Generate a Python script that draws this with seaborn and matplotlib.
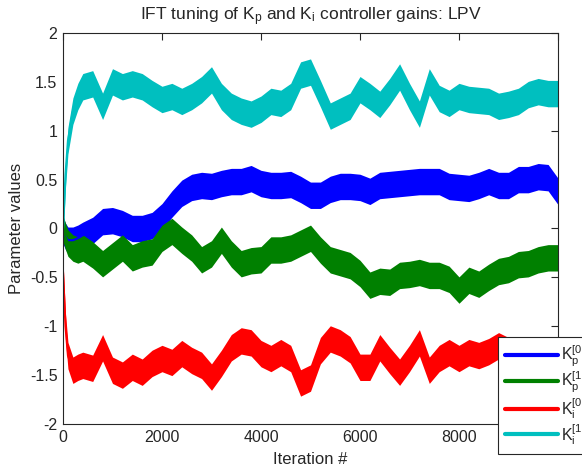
"""IFT tuning of Kp and Ki gains (LPV) - recreated chart
"""

import matplotlib.pyplot as plt
from matplotlib.ticker import FuncFormatter
import pandas as pd
import seaborn as sns

# iteration grid and band centres for each gain
iterations = [
    0, 50, 100, 200, 300, 400, 600, 800, 1000, 1200, 1400, 1600, 1800,
    2000, 2200, 2400, 2600, 2800, 3000, 3200, 3400, 3600, 3800, 4000,
    4200, 4400, 4600, 4800, 5000, 5200, 5400, 5600, 5800, 6000, 6200,
    6400, 6600, 6800, 7000, 7200, 7400, 7600, 7800, 8000, 8200, 8400,
    8600, 8800, 9000, 9200, 9400, 9600, 9800, 10000,
]

kp0 = [
    -0.02, -0.08, -0.12, -0.12, -0.10, -0.07, -0.02, 0.07, 0.08, 0.05, 0.00,
    0.00, 0.03, 0.12, 0.25, 0.36, 0.42, 0.44, 0.43, 0.46, 0.48, 0.48, 0.51,
    0.46, 0.44, 0.44, 0.45, 0.40, 0.34, 0.34, 0.40, 0.43, 0.43, 0.42, 0.38,
    0.44, 0.45, 0.46, 0.47, 0.48, 0.48, 0.48, 0.43, 0.42, 0.41, 0.44, 0.48,
    0.44, 0.44, 0.50, 0.50, 0.53, 0.52, 0.38,
]

kp1 = [
    0.00, -0.08, -0.15, -0.20, -0.22, -0.20, -0.27, -0.36, -0.28, -0.20,
    -0.30, -0.26, -0.24, -0.10, -0.03, -0.12, -0.20, -0.32, -0.26, -0.12,
    -0.26, -0.36, -0.33, -0.32, -0.22, -0.22, -0.20, -0.15, -0.10, -0.22,
    -0.32, -0.35, -0.38, -0.46, -0.58, -0.54, -0.55, -0.48, -0.47, -0.45,
    -0.48, -0.48, -0.52, -0.63, -0.53, -0.57, -0.50, -0.44, -0.42, -0.37,
    -0.36, -0.32, -0.30, -0.30,
]

ki0 = [
    -0.45, -1.00, -1.30, -1.45, -1.42, -1.40, -1.43, -1.22, -1.45, -1.50,
    -1.42, -1.47, -1.38, -1.33, -1.37, -1.28, -1.35, -1.40, -1.52, -1.38,
    -1.22, -1.15, -1.17, -1.28, -1.33, -1.27, -1.33, -1.58, -1.53, -1.25,
    -1.13, -1.17, -1.24, -1.42, -1.42, -1.22, -1.35, -1.47, -1.33, -1.17,
    -1.45, -1.33, -1.27, -1.33, -1.27, -1.30, -1.26, -1.20, -1.25, -1.28,
    -1.26, -1.28, -1.25, -1.27,
]

ki1 = [
    0.00, 0.55, 0.90, 1.20, 1.35, 1.45, 1.48, 1.25, 1.50, 1.45, 1.48, 1.45,
    1.38, 1.32, 1.35, 1.30, 1.35, 1.42, 1.52, 1.35, 1.25, 1.20, 1.17, 1.22,
    1.30, 1.28, 1.35, 1.57, 1.60, 1.38, 1.15, 1.20, 1.25, 1.42, 1.35, 1.27,
    1.40, 1.55, 1.35, 1.17, 1.50, 1.33, 1.28, 1.35, 1.32, 1.31, 1.30, 1.25,
    1.27, 1.30, 1.37, 1.40, 1.38, 1.38,
]

# half thickness of the noisy band around each centre line
band_halfwidth = 0.135

series_labels = [
    r"K$_{p}^{[0]}$",
    r"K$_{p}^{[1]}$",
    r"K$_{i}^{[0]}$",
    r"K$_{i}^{[1]}$",
]
series_values = [kp0, kp1, ki0, ki1]
colors = ["#0000ff", "#008000", "#ff0000", "#00bfbf"]

sns.set_theme(style="white")
plt.rcParams["font.family"] = ["Liberation Sans", "DejaVu Sans"]
plt.rcParams.update(
    {
        "mathtext.default": "regular",
        "axes.unicode_minus": False,
        "font.size": 11.5,
        "axes.labelsize": 12,
        "xtick.labelsize": 11.5,
        "ytick.labelsize": 11.5,
        "xtick.direction": "in",
        "ytick.direction": "in",
        "xtick.top": True,
        "ytick.right": True,
        "xtick.major.size": 5,
        "ytick.major.size": 5,
        "axes.edgecolor": "#262626",
        "axes.linewidth": 0.8,
        "xtick.color": "#262626",
        "ytick.color": "#262626",
        "text.color": "#262626",
        "axes.labelcolor": "#262626",
    }
)

# long form table for seaborn
frames = []
for lab, vals in zip(series_labels, series_values):
    frames.append(pd.DataFrame({"iteration": iterations, "value": vals, "gain": lab}))
df = pd.concat(frames, ignore_index=True)

fig = plt.figure(figsize=(5.82, 4.70), dpi=100)
ax = fig.add_axes([63 / 582, 1 - 424 / 470, 495 / 582, 391 / 470])

sns.lineplot(
    data=df,
    x="iteration",
    y="value",
    hue="gain",
    palette=dict(zip(series_labels, colors)),
    linewidth=1.5,
    legend=False,
    ax=ax,
)

# thick noisy band for every series
for lab, vals, col in zip(series_labels, series_values, colors):
    sub = df[df["gain"] == lab]
    ax.fill_between(
        sub["iteration"],
        sub["value"] - band_halfwidth,
        sub["value"] + band_halfwidth,
        color=col,
        linewidth=0,
    )

ax.set_xlim(0, 10000)
ax.set_ylim(-2, 2)
ax.set_xticks([0, 2000, 4000, 6000, 8000, 10000])
ax.set_yticks([-2, -1.5, -1, -0.5, 0, 0.5, 1, 1.5, 2])
ax.yaxis.set_major_formatter(FuncFormatter(lambda v, p: f"{v:g}"))
ax.xaxis.set_major_formatter(FuncFormatter(lambda v, p: f"{v:g}"))
ax.tick_params(axis="both", which="both", length=5, width=0.8, pad=4)

ax.set_xlabel("Iteration #", labelpad=5)
ax.set_ylabel("Parameter values", labelpad=4)
ax.set_title(
    r"IFT tuning of K$_{p}$ and K$_{i}$ controller gains: LPV",
    fontsize=12.5,
    pad=9,
)

# legend partly hangs over the right figure edge, as in the original
handles = [
    plt.Line2D([], [], color=c, linewidth=3) for c in colors
]
leg = ax.legend(
    handles,
    series_labels,
    loc="upper left",
    bbox_to_anchor=(498 / 582, 1 - 337 / 470),
    bbox_transform=fig.transFigure,
    borderaxespad=0,
    frameon=True,
    fancybox=False,
    framealpha=1,
    edgecolor="#262626",
    handlelength=3.3,
    handletextpad=0.2,
    labelspacing=0.05,
    borderpad=0.45,
    fontsize=11.5,
)
leg.get_frame().set_linewidth(0.8)
leg.set_zorder(10)

fig.savefig("out.png", dpi=100)
